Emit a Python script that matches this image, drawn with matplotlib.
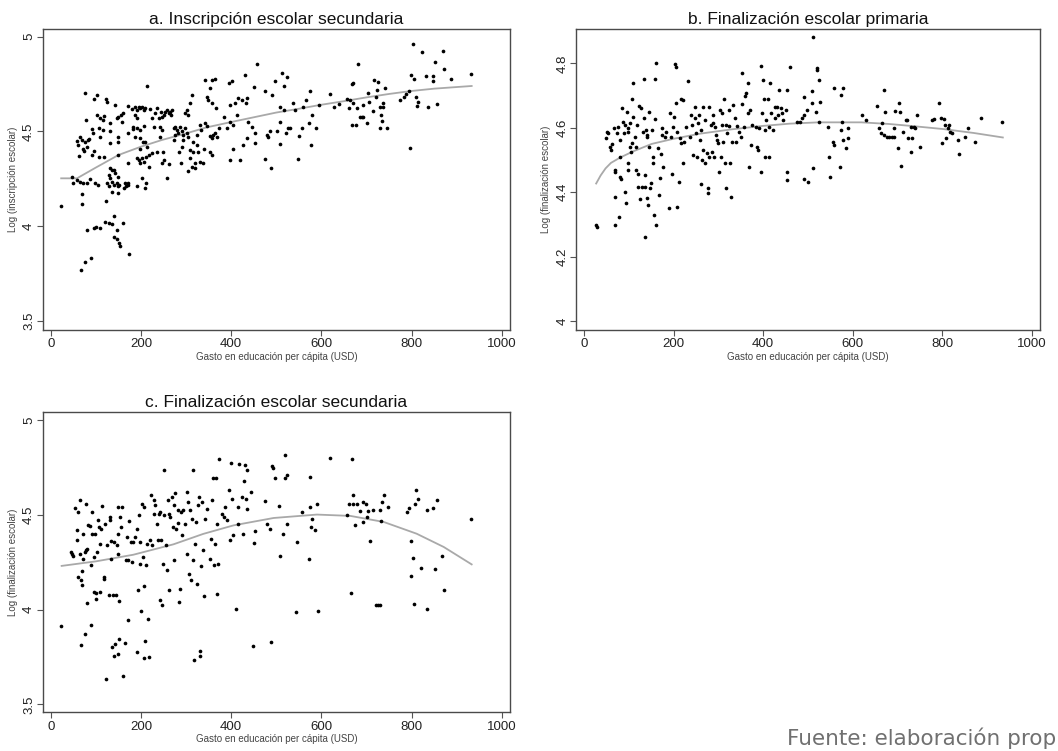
import matplotlib
matplotlib.use("Agg")
import matplotlib.pyplot as plt

plt.rcParams['font.family'] = ['Liberation Sans', 'DejaVu Sans']

# ---------------- a. Inscripción escolar secundaria ----------------
a_x = [23, 47, 49, 59, 65, 71, 69, 69, 67, 76, 89, 80, 95, 100, 109, 120, 128, 135, 139, 141,
       146, 146, 152, 154, 160, 173, 123,
       58, 61, 65, 69, 72, 76, 80, 83, 85, 91, 93, 63, 74, 91, 76, 78, 96, 103, 103, 109, 115,
       118, 123, 124, 107, 109, 115, 107, 117, 95, 98, 87, 80, 104,
       132, 132, 132, 143, 146, 150, 156, 158, 161, 148, 150, 150, 171, 172, 172, 179, 182,
       132, 135, 139, 143, 128, 132, 135, 139, 130, 135, 146, 148, 150, 152, 149, 124, 165,
       167, 171, 163, 172,
       187, 191, 195, 198, 202, 206, 209, 213, 187, 192, 183, 191, 197, 187, 198, 204, 209,
       213, 217, 191, 195, 198, 202, 206, 212, 217, 191, 202, 208, 211, 197, 224, 207, 220,
       224, 228, 231, 235, 239, 241, 244, 246, 250, 253, 257, 261, 265, 268, 266, 242, 248,
       250, 257, 261, 235, 246, 246,
       272, 276, 279, 272, 276, 283, 287, 290, 294, 285, 289, 298, 302, 305, 309, 312, 302,
       305, 309, 309, 316, 320, 316, 323, 323, 327, 331, 334, 340, 305, 312, 320, 330, 338,
       298, 294, 290,
       342, 352, 357, 364, 346, 349, 357, 366, 342, 347, 353, 357, 360, 364, 368, 353, 358, 372,
       383, 390, 394, 401, 398, 398, 398, 403, 405, 409, 412, 416, 420, 424, 427, 430, 433,
       436, 438, 435, 446, 451, 453, 453, 458, 475, 475, 479, 486, 482, 490, 488, 498, 501,
       507, 507, 509, 513, 516, 517, 523, 522, 525, 531, 538, 542, 548, 551, 557, 559, 565,
       572, 575, 576, 578, 589, 594,
       619, 627, 638, 656, 660, 664, 667, 670, 667, 671, 677, 678, 682, 686, 690, 693, 693,
       701, 704, 706, 714, 717, 721, 723, 726, 729, 730, 732, 734, 736, 741, 737, 746,
       775, 782, 788, 793, 797, 798, 802, 806, 810, 811, 815, 823, 832, 836, 847, 848, 852,
       857, 869, 871, 887, 932]
a_y = [4.107, 4.26, 4.23, 4.245, 4.235, 4.23, 4.17, 4.12, 3.77, 3.81, 3.835, 3.98, 3.99, 3.995,
       3.99, 4.02, 4.015, 4.01, 4.055, 3.945, 3.98, 3.935, 3.91, 3.895, 4.015, 3.855, 4.135,
       4.45, 4.43, 4.47, 4.455, 4.41, 4.445, 4.42, 4.455, 4.46, 4.515, 4.49, 4.37, 4.395,
       4.375, 4.705, 4.56, 4.67, 4.69, 4.587, 4.57, 4.56, 4.58, 4.67, 4.657, 4.52, 4.47, 4.51,
       4.367, 4.364, 4.395, 4.227, 4.25, 4.227, 4.22,
       4.543, 4.5, 4.44, 4.64, 4.57, 4.578, 4.587, 4.55, 4.595, 4.47, 4.446, 4.376, 4.634,
       4.49, 4.336, 4.62, 4.525,
       4.306, 4.297, 4.297, 4.28, 4.27, 4.253, 4.235, 4.218, 4.21, 4.18, 4.23, 4.213, 4.26,
       4.218, 4.178, 4.23, 4.227, 4.21, 4.23, 4.2, 4.218,
       4.627, 4.613, 4.63, 4.622, 4.627, 4.613, 4.622, 4.74, 4.587, 4.57, 4.513, 4.517, 4.508,
       4.473, 4.464, 4.446, 4.446, 4.42, 4.376, 4.358, 4.35, 4.336, 4.358, 4.34, 4.367, 4.315,
       4.21, 4.253, 4.2, 4.227, 4.406, 4.385, 4.53, 4.62, 4.57, 4.525, 4.596, 4.622, 4.57,
       4.525, 4.605, 4.578, 4.587, 4.605, 4.613, 4.596, 4.605, 4.613, 4.587, 4.473, 4.394,
       4.35, 4.253, 4.33, 4.394, 4.332, 4.508,
       4.516, 4.525, 4.508, 4.455, 4.482, 4.49, 4.525, 4.5, 4.482, 4.394, 4.332, 4.596, 4.613,
       4.587, 4.648, 4.692, 4.49, 4.473, 4.402, 4.358, 4.394, 4.332, 4.446, 4.482, 4.429,
       4.394, 4.534, 4.508, 4.41, 4.29, 4.315, 4.306, 4.34, 4.332, 4.516, 4.455, 4.42,
       4.77, 4.73, 4.77, 4.775, 4.683, 4.666, 4.648, 4.622, 4.543, 4.53, 4.476, 4.464, 4.482,
       4.49, 4.473, 4.39, 4.376, 4.516,
       4.578, 4.516, 4.754, 4.766, 4.638, 4.552, 4.35, 4.406, 4.534, 4.648, 4.587, 4.675, 4.35,
       4.666, 4.429, 4.8, 4.648, 4.675, 4.552, 4.464, 4.525, 4.733, 4.49, 4.44, 4.854, 4.715,
       4.355, 4.482, 4.5, 4.473, 4.692, 4.306, 4.766, 4.5, 4.631, 4.552, 4.432, 4.807, 4.613,
       4.74, 4.79, 4.49, 4.516, 4.516, 4.652, 4.613, 4.353, 4.476, 4.516, 4.631, 4.666, 4.547,
       4.715, 4.429, 4.587, 4.52, 4.64,
       4.7, 4.631, 4.645, 4.67, 4.622, 4.666, 4.534, 4.648, 4.75, 4.757, 4.534, 4.622, 4.854,
       4.578, 4.575, 4.64, 4.578, 4.547, 4.705, 4.657, 4.608, 4.77, 4.683, 4.719, 4.763, 4.52,
       4.631, 4.587, 4.557, 4.652, 4.728, 4.631, 4.516,
       4.666, 4.683, 4.698, 4.715, 4.411, 4.798, 4.96, 4.779, 4.68, 4.634, 4.657, 4.921, 4.793,
       4.627, 4.793, 4.768, 4.868, 4.645, 4.926, 4.828, 4.777, 4.803]
a_fit_x = [23, 58, 100, 150, 200, 246, 300, 346, 400, 450, 500, 550, 597, 650, 700, 750, 797,
           850, 933]
a_fit_y = [4.253, 4.253, 4.31, 4.376, 4.42, 4.455, 4.49, 4.522, 4.55, 4.575, 4.60, 4.62, 4.64,
           4.66, 4.68, 4.698, 4.713, 4.726, 4.74]

# ---------------- b. Finalización escolar primaria ----------------
b_x = [26, 28, 48, 52, 54, 59, 60, 63, 66, 70, 70, 70, 70, 74, 75, 77, 81, 81, 81, 82, 85, 88,
       90, 91, 92, 94, 96, 97, 99, 97, 99, 102, 103, 105, 107, 107, 109, 110, 114, 117, 117,
       118, 120, 121, 123, 125, 127, 129, 131, 134, 134, 135, 137, 137, 138, 140, 140, 141,
       142, 144, 146, 147, 149, 151, 153, 155, 156, 158, 159, 161, 161, 164, 168, 169, 171,
       173, 175, 177, 180, 184, 190, 191, 195, 197, 199, 200, 203, 205, 206, 208, 208, 212,
       214, 216, 217, 220, 221, 223, 227, 231, 236, 239, 241, 243, 247, 248, 250, 252, 254,
       256, 258, 260, 261, 264, 265, 266, 269, 271, 274, 276, 276, 278, 280, 283, 286, 287,
       289, 291, 293, 295, 297, 300, 302, 303, 306, 308, 309, 311, 313, 315, 317, 318, 320,
       323, 324, 326, 329, 331, 333, 336, 339, 342, 346, 350, 352, 353, 357, 359, 362, 365,
       367, 368, 370, 372, 375, 383, 387, 389, 390, 394, 396, 398, 400, 401, 403, 405, 407,
       411, 412, 414, 416, 418, 421, 426, 427, 431, 434, 436, 440, 443, 445, 451, 452, 453,
       453, 460, 475, 482, 486, 490, 492, 490, 497, 501, 508, 510, 512, 512, 517, 519, 521,
       524, 527, 524, 545, 548, 550, 556, 558, 559, 571, 573, 574, 576, 578, 578, 585, 589,
       590, 621, 630, 655, 659, 663, 666, 669, 670, 672, 676, 681, 687, 691, 692, 694, 700,
       703, 705, 708, 713, 718, 722, 724, 729, 731, 733, 736, 740, 744, 750, 777, 782, 792,
       797, 799, 803, 807, 809, 812, 814, 817, 821, 836, 838, 851, 858, 872, 887, 934]
b_y = [4.298, 4.293, 4.567, 4.588, 4.583, 4.54, 4.53, 4.55, 4.598, 4.47, 4.464, 4.386, 4.298,
       4.583, 4.604, 4.324, 4.562, 4.51, 4.448, 4.44, 4.66, 4.619, 4.583, 4.609, 4.402, 4.365,
       4.65, 4.588, 4.598, 4.491, 4.469, 4.54, 4.614, 4.526, 4.552, 4.688, 4.634, 4.74, 4.572,
       4.469, 4.54, 4.609, 4.458, 4.417, 4.667, 4.378, 4.66, 4.417, 4.588, 4.753, 4.629, 4.26,
       4.453, 4.417, 4.593, 4.572, 4.381, 4.578, 4.36, 4.65, 4.54, 4.412, 4.43, 4.593, 4.51,
       4.49, 4.329, 4.752, 4.626, 4.8, 4.298, 4.536, 4.391, 4.443, 4.518, 4.578, 4.598, 4.479,
       4.572, 4.588, 4.35, 4.645, 4.572, 4.458, 4.604, 4.634, 4.798, 4.676, 4.79, 4.355, 4.588,
       4.432, 4.567, 4.691, 4.552, 4.49, 4.686, 4.557, 4.604, 4.745, 4.572, 4.639, 4.609,
       4.515, 4.665, 4.629, 4.583, 4.51, 4.614, 4.639, 4.562, 4.427, 4.593, 4.5, 4.665, 4.531,
       4.49, 4.624, 4.521, 4.396, 4.412, 4.665, 4.51, 4.609, 4.526, 4.639, 4.614, 4.51, 4.604,
       4.578, 4.562, 4.552, 4.464, 4.655, 4.51, 4.609, 4.645, 4.557, 4.691, 4.49, 4.609,
       4.412, 4.583, 4.655, 4.607, 4.49, 4.386, 4.557, 4.671, 4.629, 4.557, 4.607, 4.588,
       4.572, 4.769, 4.673, 4.604, 4.699, 4.707, 4.738, 4.645, 4.479, 4.655, 4.546, 4.609,
       4.604, 4.541, 4.531, 4.598, 4.464, 4.792, 4.645, 4.748, 4.691, 4.593, 4.51, 4.624,
       4.688, 4.51, 4.604, 4.738, 4.645, 4.593, 4.665, 4.629, 4.665, 4.639, 4.719, 4.66,
       4.645, 4.624, 4.655, 4.719, 4.438, 4.464, 4.79, 4.619, 4.619, 4.629, 4.639, 4.696,
       4.44, 4.655, 4.432, 4.714, 4.676, 4.883, 4.474, 4.65, 4.785, 4.781, 4.748, 4.681,
       4.619, 4.604, 4.51, 4.448, 4.557, 4.546, 4.724, 4.479, 4.593, 4.702, 4.619, 4.562,
       4.725, 4.536, 4.567, 4.598, 4.64, 4.624, 4.667, 4.598, 4.583, 4.614, 4.578, 4.717,
       4.65, 4.572, 4.572, 4.57, 4.572, 4.598, 4.652, 4.536, 4.678, 4.648, 4.481, 4.588,
       4.624, 4.624, 4.567, 4.526, 4.604, 4.567, 4.601, 4.598, 4.639, 4.541, 4.624, 4.626,
       4.676, 4.632, 4.552, 4.626, 4.609, 4.567, 4.598, 4.609, 4.588, 4.583, 4.562, 4.518,
       4.572, 4.598, 4.557, 4.632, 4.617]
b_fit_x = [27, 37, 48, 60, 81, 110, 151, 200, 260, 328, 400, 460, 523, 619, 680, 729, 803,
           870, 935]
b_fit_y = [4.427, 4.452, 4.474, 4.491, 4.508, 4.527, 4.550, 4.566, 4.582, 4.595, 4.606, 4.613,
           4.617, 4.617, 4.612, 4.606, 4.596, 4.584, 4.57]

# ---------------- c. Finalización escolar secundaria ----------------
c_x = [23, 44, 47, 49, 54, 57, 58, 60, 61, 64, 65, 67, 67, 69, 69, 71, 72, 76, 76, 78, 78, 81,
       81, 83, 87, 89, 89, 91, 91, 95, 96, 97, 100, 100, 102, 104, 106, 108, 109, 111, 113,
       117, 118, 120, 123, 124, 128, 132, 132, 133, 134, 135, 137, 139, 140, 143, 145, 146,
       148, 148, 150, 150, 152, 152, 154, 155, 157, 159, 165, 167, 170, 171, 172, 174, 177,
       180, 182, 187, 191, 192, 193, 195, 197, 198, 200, 202, 204, 206, 207, 207, 209, 211,
       213, 215, 217, 219, 222, 224, 228, 229, 231, 235, 237, 239, 241, 242, 245, 246, 248,
       250, 252, 256, 257, 259, 261, 263, 265, 268, 271, 272, 274, 276, 278, 281, 283, 285,
       287, 289, 290, 294, 298, 302, 303, 305, 307, 309, 311, 313, 316, 316, 318, 320, 322,
       324, 326, 329, 330, 331, 333, 335, 338, 340, 342, 346, 352, 355, 357, 359, 361, 363,
       366, 368, 368, 370, 373, 379, 383, 387, 390, 394, 398, 400, 401, 403, 411, 414, 416,
       418, 424, 427, 429, 431, 433, 435, 436, 444, 449, 451, 453, 475, 479, 485, 488, 490,
       492, 497, 505, 509, 514, 520, 520, 523, 524, 546, 543, 557, 572, 574, 575, 576, 578,
       586, 590, 593, 619, 656, 660, 666, 667, 670, 671, 674, 678, 686, 692, 693, 699, 701,
       704, 708, 715, 721, 726, 730, 729, 732, 734, 739, 748, 789, 793, 798, 798, 803, 806,
       808, 810, 815, 820, 834, 835, 847, 852, 857, 868, 871, 932]
c_y = [3.912, 4.305, 4.292, 4.282, 4.535, 4.42, 4.37, 4.173, 4.518, 4.296, 4.577, 3.815, 4.158,
       4.204, 4.128, 4.27, 4.4, 4.305, 3.87, 4.556, 4.313, 4.322, 4.035, 4.445, 4.44, 4.238,
       3.917, 4.518, 4.4, 4.093, 4.278, 4.4, 4.09, 4.058, 4.305, 4.472, 4.437, 4.349, 4.093,
       4.428, 4.546, 4.164, 4.173, 4.454, 3.636, 4.34, 4.079, 4.472, 4.489, 4.363, 4.27,
       3.803, 4.079, 3.754, 4.357, 3.82, 4.079, 4.34, 4.542, 4.4, 3.764, 4.296, 3.847, 4.044,
       4.489, 4.437, 4.542, 3.652, 3.826, 4.261, 4.384, 3.944, 4.261, 4.468, 4.357, 4.252,
       4.357, 4.384, 3.776, 4.428, 4.102, 4.502, 4.357, 4.243, 3.993, 4.56, 4.278, 4.542,
       3.746, 4.123, 3.834, 4.234, 4.349, 3.952, 3.75, 4.366, 4.604, 4.34, 4.577, 4.507, 4.551,
       4.454, 4.366, 4.507, 4.516, 4.053, 4.366, 4.023, 4.243, 4.498, 4.736, 4.34, 4.211,
       4.577, 4.102, 4.507, 4.489, 4.595, 4.437, 4.261, 4.551, 4.616, 4.428, 4.525, 4.458,
       4.04, 4.111, 4.516, 4.393, 4.525, 4.454, 4.621, 4.296, 4.569, 4.19, 4.525, 4.155, 4.481,
       4.736, 4.261, 3.736, 4.349, 4.463, 4.137, 4.551, 4.595, 3.754, 3.782, 4.229, 4.569,
       4.313, 4.07, 4.481, 4.534, 4.269, 4.375, 4.581, 4.695, 4.234, 4.349, 4.695, 4.454,
       4.085, 4.243, 4.798, 4.507, 4.489, 4.542, 4.472, 4.63, 4.366, 4.775, 4.586, 4.396,
       4.002, 4.542, 4.454, 4.768, 4.597, 4.398, 4.681, 4.766, 4.583, 4.736, 4.534, 4.621,
       3.806, 4.352, 4.415, 4.574, 4.454, 4.426, 3.829, 4.757, 4.75, 4.697, 4.546, 4.283,
       4.401, 4.815, 4.695, 4.454, 4.713, 4.357, 3.988, 4.516, 4.266, 4.542, 4.701, 4.437,
       4.477, 4.419, 4.556, 3.993, 4.801, 4.498, 4.556, 4.088, 4.798, 4.604, 4.56, 4.449,
       4.56, 4.521, 4.569, 4.463, 4.56, 4.491, 4.519, 4.361, 4.528, 4.023, 4.023, 4.023,
       4.528, 4.468, 4.569, 4.607, 4.542, 4.516, 4.535, 4.363, 4.176, 4.273, 4.028, 4.56,
       4.63, 4.586, 4.22, 4.002, 4.525, 4.537, 4.217, 4.577, 4.283, 4.106, 4.481]
c_fit_x = [24, 100, 183, 272, 338, 405, 494, 590, 664, 738, 811, 871, 933]
c_fit_y = [4.231, 4.255, 4.29, 4.345, 4.40, 4.445, 4.484, 4.502, 4.495, 4.463, 4.401, 4.331,
           4.239]

x_ticks = [0, 200, 400, 600, 800, 1000]
x_label = "Gasto en educación per cápita (USD)"

FIG_W, FIG_H = 1058, 751
fig = plt.figure(figsize=(FIG_W / 100, FIG_H / 100), dpi=100)


def frac(left, top, right, bottom):
    return [left / FIG_W, 1 - bottom / FIG_H, (right - left) / FIG_W, (bottom - top) / FIG_H]


def panel(rect, x, y, fx, fy, title, ylabel, ylim, yticks, yticklabels):
    ax = fig.add_axes(rect)
    ax.scatter(x, y, s=7, color='black', linewidths=0, zorder=3)
    ax.plot(fx, fy, color='#a9a9a9', lw=1.3, zorder=2)
    ax.set_xlim(-18, 1018)
    ax.set_ylim(*ylim)
    ax.set_xticks(x_ticks)
    ax.set_xticklabels([str(t) for t in x_ticks], fontsize=9.5, color='#222222')
    ax.set_yticks(yticks)
    ax.set_yticklabels(yticklabels, rotation=90, va='center', fontsize=9.5, color='#222222')
    ax.tick_params(axis='both', direction='out', length=4, width=0.8, color='#555555')
    ax.tick_params(axis='x', pad=2)
    ax.tick_params(axis='y', pad=1.5)
    for sp in ax.spines.values():
        sp.set_color('#4a4a4a')
        sp.set_linewidth(1.0)
    ax.set_title(title, fontsize=12.5, pad=4, color='#111111')
    ax.set_xlabel(x_label, fontsize=7, color='#444444', labelpad=1)
    ax.set_ylabel(ylabel, fontsize=7, color='#444444', labelpad=4)
    return ax


panel(frac(42.7, 29.3, 510, 330), a_x, a_y, a_fit_x, a_fit_y,
      "a. Inscripción escolar secundaria", "Log (inscripción escolar)",
      (3.453, 5.039), [3.5, 4, 4.5, 5], ["3.5", "4", "4.5", "5"])

panel(frac(576, 29.3, 1040, 330), b_x, b_y, b_fit_x, b_fit_y,
      "b. Finalización escolar primaria", "Log (finalización escolar)",
      (3.972, 4.906), [4, 4.2, 4.4, 4.6, 4.8], ["4", "4.2", "4.4", "4.6", "4.8"])

panel(frac(42.7, 412.3, 510, 712.3), c_x, c_y, c_fit_x, c_fit_y,
      "c. Finalización escolar secundaria", "Log (finalización escolar)",
      (3.458, 5.042), [3.5, 4, 4.5, 5], ["3.5", "4", "4.5", "5"])

fig.text(787 / FIG_W, 1 - 738 / FIG_H, "Fuente: elaboración propia", fontsize=15.5,
         color='#707070', family=['DejaVu Sans'], ha='left', va='center')

fig.savefig("out.png", dpi=100, facecolor='white')
